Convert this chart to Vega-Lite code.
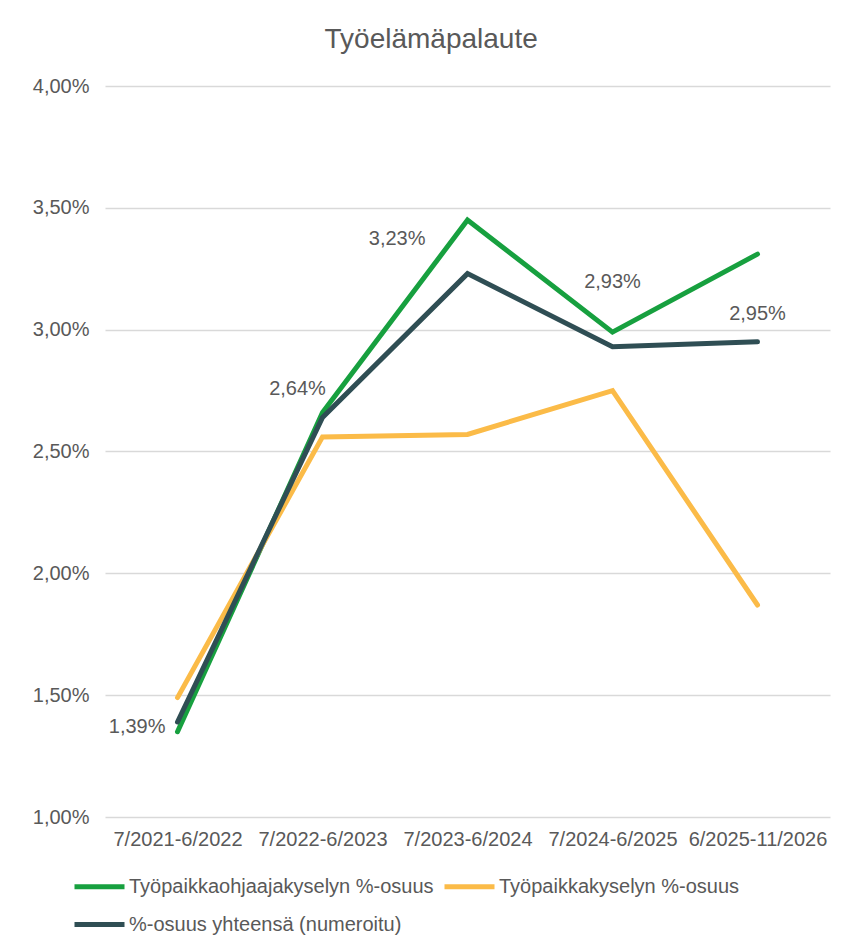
{
  "$schema": "https://vega.github.io/schema/vega-lite/v6.json",
  "autosize": {"type": "none"},
  "width": 725,
  "height": 731,
  "padding": {"left": 105, "top": 86, "right": 28, "bottom": 134},
  "background": "white",
  "config": {
    "locale": {"number": {"decimal": ",", "thousands": " ", "grouping": [3], "currency": ["", " €"]}},
    "font": "Liberation Sans",
    "view": {"stroke": null}
  },
  "title": {
    "text": "Työelämäpalaute",
    "fontSize": 28,
    "fontWeight": "normal",
    "color": "#595959",
    "anchor": "middle",
    "frame": "bounds",
    "offset": 22
  },
  "data": {
    "values": [
      {"period": "7/2021-6/2022", "series": "Työpaikkaohjaajakyselyn %-osuus", "value": 0.0135},
      {"period": "7/2022-6/2023", "series": "Työpaikkaohjaajakyselyn %-osuus", "value": 0.0266},
      {"period": "7/2023-6/2024", "series": "Työpaikkaohjaajakyselyn %-osuus", "value": 0.0345},
      {"period": "7/2024-6/2025", "series": "Työpaikkaohjaajakyselyn %-osuus", "value": 0.0299},
      {"period": "6/2025-11/2026", "series": "Työpaikkaohjaajakyselyn %-osuus", "value": 0.0331},
      {"period": "7/2021-6/2022", "series": "Työpaikkakyselyn %-osuus", "value": 0.0149},
      {"period": "7/2022-6/2023", "series": "Työpaikkakyselyn %-osuus", "value": 0.0256},
      {"period": "7/2023-6/2024", "series": "Työpaikkakyselyn %-osuus", "value": 0.0257},
      {"period": "7/2024-6/2025", "series": "Työpaikkakyselyn %-osuus", "value": 0.0275},
      {"period": "6/2025-11/2026", "series": "Työpaikkakyselyn %-osuus", "value": 0.0187},
      {"period": "7/2021-6/2022", "series": "%-osuus yhteensä (numeroitu)", "value": 0.0139},
      {"period": "7/2022-6/2023", "series": "%-osuus yhteensä (numeroitu)", "value": 0.0264},
      {"period": "7/2023-6/2024", "series": "%-osuus yhteensä (numeroitu)", "value": 0.0323},
      {"period": "7/2024-6/2025", "series": "%-osuus yhteensä (numeroitu)", "value": 0.0293},
      {"period": "6/2025-11/2026", "series": "%-osuus yhteensä (numeroitu)", "value": 0.0295}
    ]
  },
  "encoding": {
    "x": {
      "field": "period",
      "type": "ordinal",
      "sort": null,
      "scale": {"type": "point", "padding": 0.5},
      "axis": {
        "title": null,
        "labelAngle": 0,
        "labelFontSize": 20,
        "labelColor": "#595959",
        "labelPadding": 12,
        "ticks": false,
        "domain": false,
        "grid": false
      }
    },
    "y": {
      "field": "value",
      "type": "quantitative",
      "scale": {"domain": [0.01, 0.04], "nice": false, "zero": false},
      "axis": {
        "title": null,
        "format": ".2%",
        "values": [0.01, 0.015, 0.02, 0.025, 0.03, 0.035, 0.04],
        "labelFontSize": 20,
        "labelColor": "#595959",
        "labelPadding": 16,
        "ticks": false,
        "domain": false,
        "gridColor": "#d9d9d9",
        "gridWidth": 1.5
      }
    }
  },
  "layer": [
    {
      "mark": {"type": "line", "strokeWidth": 5, "strokeCap": "round", "strokeJoin": "miter"},
      "encoding": {
        "color": {
          "field": "series",
          "type": "nominal",
          "sort": ["Työpaikkaohjaajakyselyn %-osuus", "Työpaikkakyselyn %-osuus", "%-osuus yhteensä (numeroitu)"],
          "scale": {
            "domain": ["Työpaikkaohjaajakyselyn %-osuus", "Työpaikkakyselyn %-osuus", "%-osuus yhteensä (numeroitu)"],
            "range": ["#17a03f", "#fbbb48", "#2f4e54"]
          },
          "legend": {
            "title": null,
            "orient": "none",
            "legendX": -33,
            "legendY": 773,
            "direction": "horizontal",
            "columns": 2,
            "columnPadding": 0,
            "rowPadding": -2,
            "symbolType": "stroke",
            "symbolSize": 2500,
            "symbolStrokeWidth": 5,
            "labelFontSize": 20,
            "labelColor": "#595959",
            "labelOffset": 2,
            "labelLimit": 400
          }
        },
        "order": {"value": 0}
      }
    },
    {
      "transform": [{"filter": "datum.series === '%-osuus yhteensä (numeroitu)' && datum.period === '7/2021-6/2022'"}],
      "mark": {"type": "text", "align": "right", "baseline": "middle", "dx": -12, "dy": 5, "fontSize": 20, "color": "#595959"},
      "encoding": {"text": {"field": "value", "type": "quantitative", "format": ".2%"}}
    },
    {
      "transform": [{"filter": "datum.series === '%-osuus yhteensä (numeroitu)' && datum.period === '7/2022-6/2023'"}],
      "mark": {"type": "text", "align": "center", "baseline": "middle", "dx": -25, "dy": -28, "fontSize": 20, "color": "#595959"},
      "encoding": {"text": {"field": "value", "type": "quantitative", "format": ".2%"}}
    },
    {
      "transform": [{"filter": "datum.series === '%-osuus yhteensä (numeroitu)' && datum.period === '7/2023-6/2024'"}],
      "mark": {"type": "text", "align": "right", "baseline": "middle", "dx": -42, "dy": -35, "fontSize": 20, "color": "#595959"},
      "encoding": {"text": {"field": "value", "type": "quantitative", "format": ".2%"}}
    },
    {
      "transform": [{"filter": "datum.series === '%-osuus yhteensä (numeroitu)' && datum.period === '7/2024-6/2025'"}],
      "mark": {"type": "text", "align": "center", "baseline": "middle", "dx": 0, "dy": -65, "fontSize": 20, "color": "#595959"},
      "encoding": {"text": {"field": "value", "type": "quantitative", "format": ".2%"}}
    },
    {
      "transform": [{"filter": "datum.series === '%-osuus yhteensä (numeroitu)' && datum.period === '6/2025-11/2026'"}],
      "mark": {"type": "text", "align": "center", "baseline": "middle", "dx": 0, "dy": -28, "fontSize": 20, "color": "#595959"},
      "encoding": {"text": {"field": "value", "type": "quantitative", "format": ".2%"}}
    }
  ]
}
